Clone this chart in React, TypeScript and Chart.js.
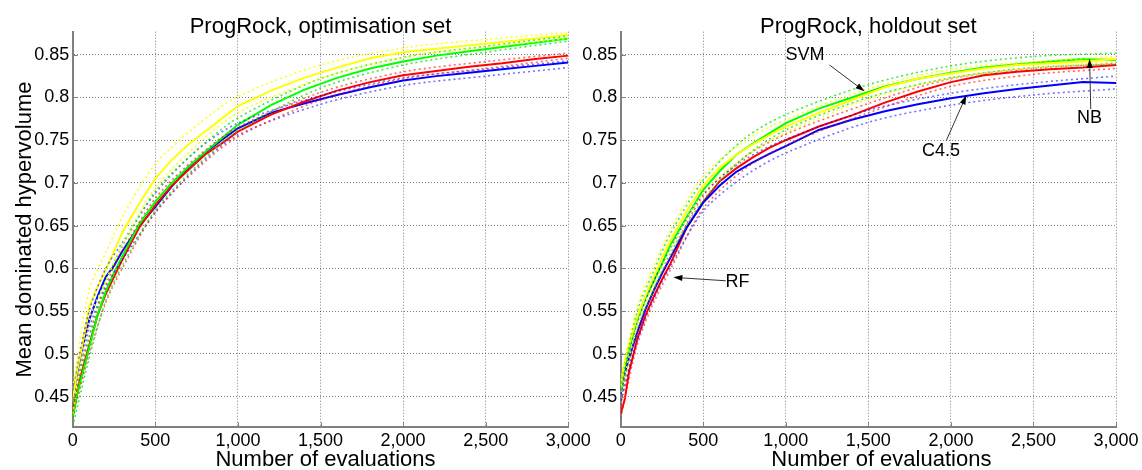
import React, { useEffect, useRef } from 'react';
import { Chart, registerables } from 'chart.js';

Chart.register(...registerables);

// ---------- data ----------
const evals = [0, 25, 50, 100, 150, 200, 250, 300, 400, 500, 600, 700, 800, 900, 1000, 1200, 1400, 1600, 1800, 2000, 2200, 2400, 2600, 2800, 3000];
const boundEvals = [0, 100, 200, 300, 500, 750, 1000, 1500, 2000, 2500, 3000];

// optimisation set - means
const optSVM = [0.445, 0.478, 0.502, 0.555, 0.578, 0.598, 0.62, 0.642, 0.675, 0.705, 0.727, 0.745, 0.76, 0.775, 0.79, 0.808, 0.823, 0.835, 0.846, 0.853, 0.857, 0.861, 0.865, 0.869, 0.873];
const optNB = [0.425, 0.45, 0.47, 0.507, 0.545, 0.573, 0.595, 0.614, 0.651, 0.678, 0.7, 0.719, 0.736, 0.752, 0.768, 0.791, 0.809, 0.823, 0.834, 0.842, 0.849, 0.854, 0.859, 0.864, 0.869];
const optRF = [0.432, 0.455, 0.475, 0.51, 0.545, 0.57, 0.59, 0.61, 0.647, 0.674, 0.697, 0.715, 0.733, 0.746, 0.76, 0.78, 0.795, 0.808, 0.818, 0.826, 0.831, 0.836, 0.84, 0.845, 0.849];
const optC45 = [0.45, 0.475, 0.5, 0.54, 0.567, 0.59, 0.603, 0.62, 0.649, 0.672, 0.696, 0.718, 0.735, 0.75, 0.764, 0.782, 0.793, 0.803, 0.812, 0.82, 0.825, 0.829, 0.833, 0.837, 0.841];

// optimisation set - confidence bounds
const optSVMUp = [0.46, 0.575, 0.618, 0.66, 0.722, 0.767, 0.801, 0.838, 0.858, 0.868, 0.876];
const optSVMLo = [0.43, 0.54, 0.585, 0.628, 0.694, 0.744, 0.782, 0.822, 0.847, 0.859, 0.869];
const optNBUp = [0.44, 0.52, 0.585, 0.626, 0.69, 0.738, 0.776, 0.822, 0.847, 0.86, 0.872];
const optNBLo = [0.415, 0.495, 0.562, 0.603, 0.668, 0.72, 0.761, 0.811, 0.838, 0.853, 0.866];
const optRFUp = [0.44, 0.52, 0.58, 0.62, 0.682, 0.73, 0.765, 0.806, 0.83, 0.842, 0.852];
const optRFLo = [0.425, 0.5, 0.56, 0.6, 0.666, 0.716, 0.754, 0.797, 0.822, 0.834, 0.846];
const optC45Up = [0.46, 0.55, 0.6, 0.63, 0.688, 0.738, 0.77, 0.802, 0.823, 0.833, 0.843];
const optC45Lo = [0.44, 0.53, 0.578, 0.61, 0.665, 0.718, 0.756, 0.792, 0.814, 0.825, 0.835];

// holdout set - means
const holdSVM = [0.462, 0.49, 0.51, 0.543, 0.568, 0.59, 0.612, 0.632, 0.667, 0.697, 0.718, 0.733, 0.745, 0.756, 0.766, 0.782, 0.797, 0.812, 0.822, 0.828, 0.834, 0.838, 0.84, 0.842, 0.845];
const holdNB = [0.457, 0.485, 0.505, 0.54, 0.565, 0.585, 0.605, 0.627, 0.66, 0.692, 0.714, 0.733, 0.746, 0.758, 0.77, 0.787, 0.8, 0.813, 0.822, 0.829, 0.835, 0.839, 0.842, 0.845, 0.844];
const holdRF = [0.43, 0.447, 0.478, 0.517, 0.545, 0.567, 0.587, 0.605, 0.648, 0.678, 0.702, 0.717, 0.73, 0.741, 0.75, 0.766, 0.779, 0.794, 0.807, 0.818, 0.826, 0.83, 0.833, 0.835, 0.838];
const holdC45 = [0.453, 0.478, 0.495, 0.525, 0.552, 0.574, 0.594, 0.612, 0.648, 0.677, 0.697, 0.713, 0.724, 0.734, 0.743, 0.762, 0.774, 0.784, 0.792, 0.799, 0.805, 0.81, 0.814, 0.818, 0.817];

// holdout set - confidence bounds
const holdSVMUp = [0.47, 0.555, 0.603, 0.645, 0.708, 0.749, 0.774, 0.81, 0.833, 0.842, 0.848];
const holdSVMLo = [0.455, 0.532, 0.58, 0.622, 0.688, 0.73, 0.759, 0.798, 0.823, 0.835, 0.842];
const holdNBUp = [0.465, 0.55, 0.597, 0.64, 0.703, 0.752, 0.78, 0.815, 0.837, 0.848, 0.852];
const holdNBLo = [0.45, 0.53, 0.575, 0.617, 0.68, 0.73, 0.762, 0.8, 0.823, 0.835, 0.839];
const holdRFUp = [0.44, 0.525, 0.575, 0.613, 0.685, 0.73, 0.757, 0.793, 0.822, 0.834, 0.84];
const holdRFLo = [0.425, 0.51, 0.56, 0.598, 0.67, 0.716, 0.744, 0.782, 0.813, 0.827, 0.834];
const holdC45Up = [0.46, 0.535, 0.585, 0.623, 0.687, 0.727, 0.751, 0.785, 0.805, 0.817, 0.825];
const holdC45Lo = [0.445, 0.515, 0.564, 0.602, 0.667, 0.708, 0.735, 0.771, 0.791, 0.803, 0.81];

// axes
const xTickValues = [0, 500, 1000, 1500, 2000, 2500, 3000];
const xTickLabels = ['0', '500', '1,000', '1,500', '2,000', '2,500', '3,000'];
const yTickValues = [0.45, 0.5, 0.55, 0.6, 0.65, 0.7, 0.75, 0.8, 0.85];
const yTickLabels = ['0.45', '0.5', '0.55', '0.6', '0.65', '0.7', '0.75', '0.8', '0.85'];
const yMin = 0.414;
const yMax = 0.877;

const titles = ['ProgRock, optimisation set', 'ProgRock, holdout set'];
const xTitle = 'Number of evaluations';
const yTitle = 'Mean dominated hypervolume';

// annotations on holdout panel
const noteLabels = ['SVM', 'NB', 'C4.5', 'RF'];
const noteTextX = [1116, 2840, 1940, 707];
const noteTextY = [0.85, 0.776, 0.7375, 0.5843];
const noteTailX = [1265, 2847, 1972, 636];
const noteTailY = [0.838, 0.7865, 0.7495, 0.5855];
const noteTipX = [1477, 2840, 2093, 319];
const noteTipY = [0.8072, 0.845, 0.8023, 0.5895];

// ---------- styles ----------
const FONT = "'Liberation Sans', Arial, Helvetica, sans-serif";
const W = 1142;
const H = 470;
const AXIS_COLOR = '#808080';
const COLORS = { SVM: '#ffff00', NB: '#00ff00', RF: '#ff0000', C45: '#0000ff' };
const DOT_COLORS = { SVM: 'rgba(255,255,0,0.9)', NB: 'rgba(0,230,0,0.75)', RF: 'rgba(255,0,0,0.6)', C45: 'rgba(0,0,255,0.55)' };

const pts = (xs: number[], ys: number[]) => xs.map((x, i) => ({ x, y: ys[i] }));

type Group = { key: keyof typeof COLORS; mean: number[]; up: number[]; lo: number[] };

function buildDatasets(groups: Group[]) {
  const dotted: any[] = [];
  const solid: any[] = [];
  groups.forEach((g) => {
    [g.up, g.lo].forEach((b, i) => {
      dotted.push({
        label: `${g.key} ${i === 0 ? 'upper' : 'lower'}`,
        data: pts(boundEvals, b),
        borderColor: DOT_COLORS[g.key],
        borderWidth: 1.6,
        borderDash: [2, 3],
        pointRadius: 0,
        tension: 0.3,
        fill: false,
      });
    });
    solid.push({
      label: g.key,
      data: pts(evals, g.mean),
      borderColor: COLORS[g.key],
      borderWidth: 2,
      pointRadius: 0,
      tension: 0,
      fill: false,
    });
  });
  return [...dotted, ...solid];
}

function makeDecor(panel: number) {
  return {
    id: 'decor' + panel,
    afterDraw(chart: any) {
      const { ctx, chartArea: a, scales } = chart;
      const xs = scales.x;
      const ys = scales.y;
      ctx.save();
      // inward tick marks
      ctx.strokeStyle = AXIS_COLOR;
      ctx.lineWidth = 1;
      ctx.beginPath();
      xTickValues.forEach((v) => {
        const px = Math.round(xs.getPixelForValue(v)) + 0.5;
        ctx.moveTo(px, a.bottom);
        ctx.lineTo(px, a.bottom - 5);
      });
      yTickValues.forEach((v) => {
        const py = Math.round(ys.getPixelForValue(v)) + 0.5;
        ctx.moveTo(a.left, py);
        ctx.lineTo(a.left + 5, py);
      });
      ctx.stroke();

      // titles
      ctx.fillStyle = '#000';
      ctx.font = `22px ${FONT}`;
      ctx.textAlign = 'center';
      ctx.textBaseline = 'alphabetic';
      const cx = (a.left + a.right) / 2;
      ctx.fillText(titles[panel], cx, 33);
      ctx.fillText(xTitle, cx + (panel === 0 ? 5 : 13), 466);
      if (panel === 0) {
        ctx.save();
        ctx.translate(31, (a.top + a.bottom) / 2);
        ctx.rotate(-Math.PI / 2);
        ctx.fillText(yTitle, 0, 0);
        ctx.restore();
      }

      // annotations
      if (panel === 1) {
        ctx.font = `18px ${FONT}`;
        ctx.textBaseline = 'middle';
        noteLabels.forEach((lab, i) => {
          const tx = xs.getPixelForValue(noteTextX[i]);
          const ty = ys.getPixelForValue(noteTextY[i]);
          ctx.fillStyle = '#000';
          ctx.fillText(lab, tx, ty);
          const x0 = xs.getPixelForValue(noteTailX[i]);
          const y0 = ys.getPixelForValue(noteTailY[i]);
          const x1 = xs.getPixelForValue(noteTipX[i]);
          const y1 = ys.getPixelForValue(noteTipY[i]);
          const ang = Math.atan2(y1 - y0, x1 - x0);
          const hl = 9;
          const hw = 3;
          ctx.strokeStyle = '#333';
          ctx.lineWidth = 1;
          ctx.beginPath();
          ctx.moveTo(x0, y0);
          ctx.lineTo(x1 - Math.cos(ang) * hl * 0.8, y1 - Math.sin(ang) * hl * 0.8);
          ctx.stroke();
          ctx.fillStyle = '#000';
          ctx.beginPath();
          ctx.moveTo(x1, y1);
          ctx.lineTo(x1 - Math.cos(ang) * hl - Math.sin(ang) * hw, y1 - Math.sin(ang) * hl + Math.cos(ang) * hw);
          ctx.lineTo(x1 - Math.cos(ang) * hl + Math.sin(ang) * hw, y1 - Math.sin(ang) * hl - Math.cos(ang) * hw);
          ctx.closePath();
          ctx.fill();
        });
      }
      ctx.restore();
    },
  };
}

function makeConfig(panel: number, groups: Group[]) {
  const left = panel === 0 ? 0 : 548;
  const right = panel === 0 ? W - 568.3 : W - 1116;
  return {
    type: 'line',
    data: { datasets: buildDatasets(groups) },
    options: {
      responsive: false,
      animation: false,
      devicePixelRatio: 1,
      layout: { padding: { left, right, top: 31.7, bottom: 0 } },
      plugins: { legend: { display: false }, tooltip: { enabled: false }, title: { display: false } },
      scales: {
        x: {
          type: 'linear',
          min: 0,
          max: 3000,
          afterBuildTicks: (s: any) => {
            s.ticks = xTickValues.map((v) => ({ value: v }));
          },
          afterFit: (s: any) => {
            s.height = H - 427.3;
            s.paddingLeft = 0;
            s.paddingRight = 0;
          },
          ticks: {
            autoSkip: false,
            maxRotation: 0,
            padding: 3,
            color: '#000',
            font: { family: FONT, size: 18 },
            callback: (_v: any, i: number) => xTickLabels[i],
          },
          grid: { color: 'rgba(0,0,0,0.5)', lineWidth: 1, drawTicks: false },
          border: { display: true, color: AXIS_COLOR, width: 2, dash: [1, 2] },
        },
        y: {
          type: 'linear',
          min: yMin,
          max: yMax,
          afterBuildTicks: (s: any) => {
            s.ticks = yTickValues.map((v) => ({ value: v }));
          },
          afterFit: (s: any) => {
            s.width = 72.7;
            s.paddingTop = 0;
            s.paddingBottom = 0;
          },
          ticks: {
            padding: 3.5,
            color: '#000',
            font: { family: FONT, size: 18 },
            callback: (_v: any, i: number) => yTickLabels[i],
          },
          grid: { color: 'rgba(0,0,0,0.5)', lineWidth: 1, drawTicks: false },
          border: { display: true, color: AXIS_COLOR, width: 2, dash: [1, 2] },
        },
      },
    },
    plugins: [makeDecor(panel)],
  } as any;
}

const optGroups: Group[] = [
  { key: 'SVM', mean: optSVM, up: optSVMUp, lo: optSVMLo },
  { key: 'NB', mean: optNB, up: optNBUp, lo: optNBLo },
  { key: 'RF', mean: optRF, up: optRFUp, lo: optRFLo },
  { key: 'C45', mean: optC45, up: optC45Up, lo: optC45Lo },
];
const holdGroups: Group[] = [
  { key: 'SVM', mean: holdSVM, up: holdSVMUp, lo: holdSVMLo },
  { key: 'NB', mean: holdNB, up: holdNBUp, lo: holdNBLo },
  { key: 'C45', mean: holdC45, up: holdC45Up, lo: holdC45Lo },
  { key: 'RF', mean: holdRF, up: holdRFUp, lo: holdRFLo },
];

export default function App() {
  const leftRef = useRef<HTMLCanvasElement>(null);
  const rightRef = useRef<HTMLCanvasElement>(null);

  useEffect(() => {
    const c1 = new Chart(leftRef.current as HTMLCanvasElement, makeConfig(0, optGroups));
    const c2 = new Chart(rightRef.current as HTMLCanvasElement, makeConfig(1, holdGroups));
    return () => {
      c1.destroy();
      c2.destroy();
    };
  }, []);

  const cstyle: React.CSSProperties = { position: 'absolute', left: 0, top: 0, width: W, height: H };
  return (
    <div style={{ position: 'fixed', left: 0, top: 0, width: W, height: H, background: '#fff' }}>
      <canvas ref={leftRef} width={W} height={H} style={cstyle} />
      <canvas ref={rightRef} width={W} height={H} style={cstyle} />
    </div>
  );
}
